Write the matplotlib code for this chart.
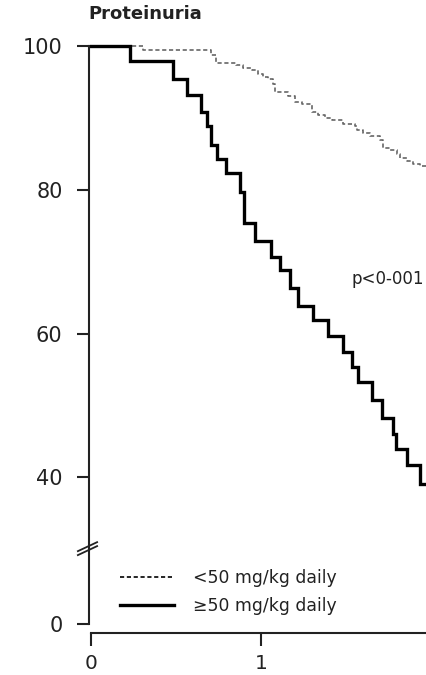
import matplotlib
matplotlib.use("Agg")
import matplotlib.pyplot as plt

plt.rcParams['font.family'] = ['DejaVu Sans']

# ---- data (years, % free of proteinuria) ----
low_t = [0, 0.306, 0.706, 0.735, 0.853, 0.894, 0.947, 0.982, 1.012, 1.041, 1.071,
         1.082, 1.159, 1.200, 1.241, 1.300, 1.335, 1.376, 1.418, 1.482, 1.553,
         1.565, 1.600, 1.641, 1.700, 1.718, 1.759, 1.800, 1.818, 1.859, 1.894,
         1.935, 2.0]
low_s = [100, 99.4, 98.75, 97.6, 97.4, 96.9, 96.7, 96.1, 95.7, 95.4, 94.7,
         93.6, 93.1, 92.2, 91.9, 90.8, 90.4, 90.0, 89.7, 89.2, 88.9,
         88.3, 87.9, 87.5, 86.9, 85.8, 85.6, 85.0, 84.4, 84.0, 83.6,
         83.3, 83.3]

high_t = [0, 0.229, 0.482, 0.565, 0.647, 0.682, 0.706, 0.741, 0.794, 0.876, 0.900,
          0.965, 1.059, 1.112, 1.171, 1.218, 1.306, 1.394, 1.482, 1.535, 1.571,
          1.653, 1.712, 1.776, 1.794, 1.859, 1.935, 2.0]
high_s = [100, 97.9, 95.4, 93.2, 90.8, 88.9, 86.3, 84.3, 82.4, 79.7, 75.4,
          72.9, 70.7, 68.9, 66.4, 63.9, 61.9, 59.7, 57.4, 55.4, 53.2,
          50.7, 48.3, 46.0, 43.9, 41.7, 39.0, 39.0]

labels = ["<50 mg/kg daily", "\u226550 mg/kg daily"]
title = "Proteinuria"
pval = "p<0-001"
y_ticks = [0, 40, 60, 80, 100]
x_ticks = [0, 1]

# broken axis: value 0 is drawn at this display position
ZERO_POS = 19.58
def ypos(v):
    return v if v >= 40 else ZERO_POS

W, H = 426, 675
fig = plt.figure(figsize=(W / 100, H / 100), dpi=100)
ax = fig.add_axes([89 / W, (H - 633) / H, (W - 89) / W, (633 - 44) / H])

txt = '#222222'
ax.step(low_t, low_s, where='post', color='#666666', lw=1.2,
        dashes=(2.5, 1.6), label=labels[0])
ax.step(high_t, high_s, where='post', color='black', lw=2.4,
        solid_joinstyle='miter', label=labels[1])

ax.set_xlim(-0.012, 1.97)
ax.set_ylim(18.33, 100.3)

for s in ['top', 'right']:
    ax.spines[s].set_visible(False)
ax.spines['left'].set_bounds(ZERO_POS, 100)
ax.spines['bottom'].set_bounds(0, 2)
for s in ['left', 'bottom']:
    ax.spines[s].set_linewidth(1.5)
    ax.spines[s].set_color('#222222')

ax.set_yticks([ypos(v) for v in y_ticks])
ax.set_yticklabels([str(v) for v in y_ticks])
ax.set_xticks(x_ticks)
ax.set_xticklabels([str(v) for v in x_ticks])
ax.tick_params(axis='y', length=9, width=1.5, pad=10, labelsize=15,
               colors='#222222', labelcolor=txt)
ax.tick_params(axis='x', length=9, width=1.5, pad=6, labelsize=14.5,
               colors='#222222', labelcolor=txt)

# axis break marks
for dy in (0.0, 0.55):
    ax.plot([-0.033, 0.024], [29.17 + dy, 30.42 + dy], color='#222222', lw=1.3,
            transform=ax.get_yaxis_transform(), clip_on=False)

fig.text(88 / W, 1 - 14 / H, title, fontsize=13, fontweight='bold',
         color=txt, va='center', ha='left')
ax.text(1.53, 67.6, pval, fontsize=12, color=txt, va='center', ha='left')

leg = ax.legend(loc='lower left', bbox_to_anchor=(0.093, 0.03), frameon=False,
                fontsize=12.4, handlelength=3.1, handletextpad=1.1,
                labelspacing=0.6, borderpad=0, borderaxespad=0)
for t in leg.get_texts():
    t.set_color(txt)
leg.get_lines()[0].set_color('black')

fig.savefig('out.png', dpi=100)
